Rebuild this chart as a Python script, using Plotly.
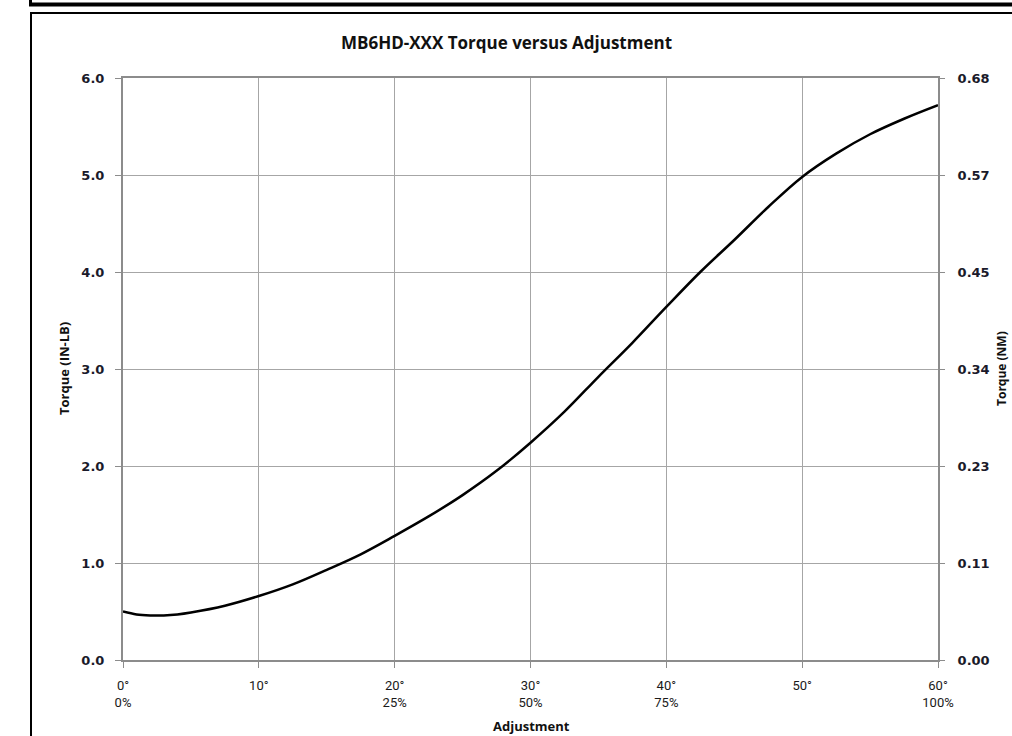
import plotly.graph_objects as go

# Data
adjustment_deg = [0, 1, 2, 3, 4, 5, 7.5, 10, 12.5, 15, 17.5, 20, 22.5, 25, 27.5, 30,
                  32.5, 35, 37.5, 40, 42.5, 45, 47.5, 50, 52.5, 55, 57.5, 60]
torque_inlb = [0.50, 0.47, 0.46, 0.46, 0.47, 0.49, 0.56, 0.66, 0.78, 0.93, 1.09, 1.28,
               1.48, 1.70, 1.95, 2.24, 2.56, 2.92, 3.27, 3.64, 4.00, 4.33, 4.67, 4.98,
               5.22, 5.42, 5.58, 5.72]

x_tickvals = [0, 10, 20, 30, 40, 50, 60]
x_ticktext = ["0°<br>0%", "10°", "20°<br>25%", "30°<br>50%", "40°<br>75%", "50°", "60°<br>100%"]
y_tickvals = [0, 1, 2, 3, 4, 5, 6]
y_ticktext = ["0.0", "1.0", "2.0", "3.0", "4.0", "5.0", "6.0"]
y2_ticktext = ["0.00", "0.11", "0.23", "0.34", "0.45", "0.57", "0.68"]

W, H = 1012, 736
L, R, T, B = 123, 938, 78, 660
PW, PH = R - L, B - T

def px(x):
    return (x - L) / PW

def py(y):
    return (B - y) / PH

FONT = "Open Sans"
TICKFONT = "DejaVu Sans"
GRID = "#a6a6a6"
AXIS = "#8c8c8c"

fig = go.Figure()
fig.add_trace(go.Scatter(x=adjustment_deg, y=torque_inlb, mode="lines",
                         line=dict(color="black", width=2.5, shape="spline", smoothing=1.0),
                         showlegend=False, hoverinfo="skip"))
# invisible trace for secondary axis
fig.add_trace(go.Scatter(x=[0, 60], y=[0, 6], yaxis="y2", mode="markers",
                         marker=dict(opacity=0), showlegend=False, hoverinfo="skip"))

fig.update_layout(
    width=W, height=H,
    margin=dict(l=L, r=W - R, t=T, b=H - B, pad=0),
    paper_bgcolor="white", plot_bgcolor="white",
    xaxis=dict(range=[0, 60], tickvals=x_tickvals, ticktext=x_ticktext,
               showgrid=True, gridcolor=GRID, gridwidth=1,
               showline=True, linecolor=AXIS, linewidth=2, mirror=True,
               ticks="outside", ticklen=6, tickcolor=AXIS, tickwidth=1,
               zeroline=False, fixedrange=True, ticklabelstandoff=6,
               tickfont=dict(family="Liberation Sans Narrow, Roboto", size=13, color="#1a1a1a")),
    yaxis=dict(range=[0, 6], tickvals=y_tickvals, ticktext=y_ticktext,
               showgrid=True, gridcolor=GRID, gridwidth=1,
               showline=True, linecolor=AXIS, linewidth=2, mirror=True,
               ticks="outside", ticklen=6, tickcolor=AXIS, tickwidth=1,
               zeroline=False, fixedrange=True, ticklabelstandoff=8,
               tickfont=dict(family=TICKFONT, size=13, color="#1a1a2a", weight="bold")),
    yaxis2=dict(range=[0, 6], tickvals=y_tickvals, ticktext=y2_ticktext,
                overlaying="y", side="right", showgrid=False,
                showline=False, ticks="outside", ticklen=6, tickcolor=AXIS,
                zeroline=False, fixedrange=True, ticklabelstandoff=10,
                tickfont=dict(family=TICKFONT, size=13, color="#1a1a2a", weight="bold")),
    shapes=[
        # previous box bottom edge (thick bar at top)
        dict(type="line", xref="paper", yref="paper", x0=px(29), x1=px(1020), y0=py(4.5), y1=py(4.5),
             line=dict(color="black", width=4)),
        dict(type="line", xref="paper", yref="paper", x0=px(30.5), x1=px(30.5), y0=py(-5), y1=py(6),
             line=dict(color="black", width=3)),
        # chart frame
        dict(type="line", xref="paper", yref="paper", x0=px(31), x1=px(1020), y0=py(13), y1=py(13),
             line=dict(color="black", width=2)),
        dict(type="line", xref="paper", yref="paper", x0=px(31), x1=px(31), y0=py(12), y1=py(745),
             line=dict(color="black", width=2)),
    ],
    annotations=[
        dict(text="<b>MB6HD-XXX Torque versus Adjustment</b>", xref="paper", yref="paper",
             x=px(506), y=py(43), xanchor="center", yanchor="middle", showarrow=False,
             font=dict(family=FONT, size=17, color="#111")),
        dict(text="<b>Adjustment</b>", xref="paper", yref="paper",
             x=px(531), y=py(726), xanchor="center", yanchor="middle", showarrow=False,
             font=dict(family=FONT, size=13, color="#111")),
        dict(text="<b>Torque (IN-LB)</b>", xref="paper", yref="paper", textangle=-90,
             x=px(64), y=py(369), xanchor="center", yanchor="middle", showarrow=False,
             font=dict(family=FONT, size=13, color="#111")),
        dict(text="<b>Torque (NM)</b>", xref="paper", yref="paper", textangle=-90,
             x=px(1001), y=py(369), xanchor="center", yanchor="middle", showarrow=False,
             font=dict(family=FONT, size=12, color="#111")),
    ],
)

fig.write_html("out.html", config={"displayModeBar": False},
               post_script="document.body.style.margin='0';")
